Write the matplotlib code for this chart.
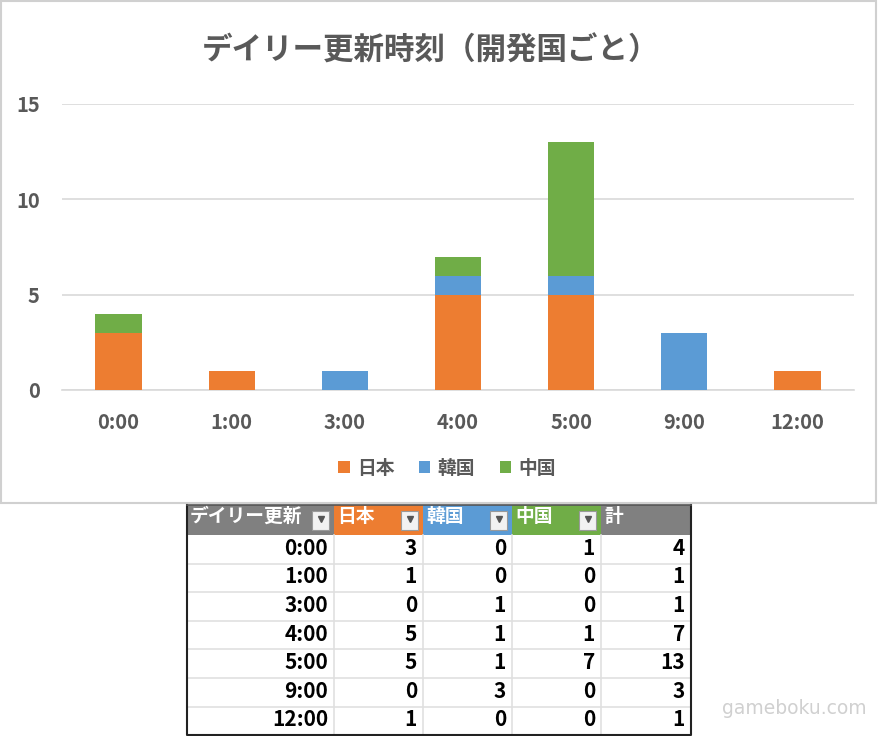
import numpy as np
import matplotlib
matplotlib.use('Agg')
from matplotlib import pyplot as plt
from matplotlib.patches import Rectangle

plt.rcParams['font.family'] = ['Noto Sans CJK JP', 'DejaVu Sans']

# data
times = ['0:00', '1:00', '3:00', '4:00', '5:00', '9:00', '12:00']
japan = [3, 1, 0, 5, 5, 0, 1]
korea = [0, 0, 1, 1, 1, 3, 0]
china = [1, 0, 0, 1, 7, 0, 0]
series_names = ['日本', '韓国', '中国']
table_header = ['デイリー更新', '日本', '韓国', '中国', '計']

ORANGE = '#ED7D31'
BLUE = '#5B9BD5'
GREEN = '#70AD47'
GRAY_TXT = '#595959'
W, H = 880, 736

fig = plt.figure(figsize=(W / 100, H / 100), dpi=100)

# overlay axes in pixel coords for frame, table, watermark
ov = fig.add_axes([0, 0, 1, 1])
ov.set_xlim(0, W)
ov.set_ylim(H, 0)
ov.axis('off')
ov.add_patch(Rectangle((1, 1), 875, 502, fill=False, ec='#d0d0d0', lw=1.5))

# chart axes
def fy(py):
  return 1 - py / H

ax = fig.add_axes([62 / W, fy(390), (854 - 62) / W, (390 - 104) / H])
x = np.arange(len(times))
jp = np.array(japan); kr = np.array(korea); cn = np.array(china)
bw = 0.41
ax.bar(x, jp, bw, color=ORANGE, label=series_names[0], zorder=3)
ax.bar(x, kr, bw, bottom=jp, color=BLUE, label=series_names[1], zorder=3)
ax.bar(x, cn, bw, bottom=jp + kr, color=GREEN, label=series_names[2], zorder=3)
ax.set_xlim(-0.5, len(times) - 0.5)
ax.set_ylim(0, 15)
ax.set_yticks([0, 5, 10, 15])
ax.yaxis.grid(True, color='#d9d9d9', lw=1.2, zorder=0)
for s in ['top', 'right', 'left']:
  ax.spines[s].set_visible(False)
ax.spines['bottom'].set_color('#d9d9d9')
ax.spines['bottom'].set_linewidth(1.2)
ax.set_xticks(x)
ax.set_xticklabels(times)
ax.tick_params(length=0, labelsize=14.5, labelcolor=GRAY_TXT, pad=0)
ax.tick_params(axis='x', pad=16)
ax.tick_params(axis='y', pad=16)
for lab in ax.get_xticklabels() + ax.get_yticklabels():
  lab.set_fontweight('bold')
ax.patch.set_alpha(0)

ov.text(431, 51, 'デイリー更新時刻（開発国ごと）', ha='center', va='center',
        fontsize=22, fontweight='bold', color=GRAY_TXT)

leg = ax.legend(loc='center', bbox_to_anchor=(447 / W, fy(468)), bbox_transform=fig.transFigure,
                ncol=3, frameon=False, handlelength=0.6, handleheight=0.6,
                handletextpad=0.4, columnspacing=1.3, prop={'size': 13.5, 'weight': 'bold'})
for t in leg.get_texts():
  t.set_color(GRAY_TXT)

# table
col_x = [187, 334, 423, 512, 601, 691]
head_top, head_bot = 505, 535
row_h = 28.6
head_colors = ['#808080', ORANGE, BLUE, GREEN, '#808080']
for i, name in enumerate(table_header):
  ov.add_patch(Rectangle((col_x[i], head_top), col_x[i + 1] - col_x[i], head_bot - head_top,
                         fc=head_colors[i], ec='none'))
  ov.text(col_x[i] + 3, head_top + 11, name, ha='left', va='center', fontsize=13.5,
          fontweight='bold', color='white')
  if i < 4:
    bx = col_x[i + 1] - 22
    ov.add_patch(Rectangle((bx, head_top + 6), 17, 19, fc='#f2f2f2', ec='#9a9a9a', lw=0.8))
    ov.plot([bx + 8.5], [head_top + 14], marker='v', ms=4, color='#555555')

totals = jp + kr + cn
rows = [[times[k], japan[k], korea[k], china[k], int(totals[k])] for k in range(len(times))]
for r, row in enumerate(rows):
  y0 = head_bot + r * row_h
  for c, val in enumerate(row):
    ov.text(col_x[c + 1] - 6, y0 + row_h / 2 - 1, str(val), ha='right', va='center',
            fontsize=15, fontweight='bold', color='black')
  if r > 0:
    ov.plot([col_x[0], col_x[-1]], [y0, y0], color='#e0e0e0', lw=1.2)
for cx in col_x[1:-1]:
  ov.plot([cx, cx], [head_bot, 735], color='#e0e0e0', lw=1.2)
ov.plot([col_x[0], col_x[0], col_x[-1], col_x[-1]], [head_top, 735, 735, head_top],
        color='#222222', lw=1.5)
ov.plot([col_x[0], col_x[-1]], [head_top, head_top], color='#555555', lw=1.2)

ov.text(794, 708, 'gameboku.com', ha='center', va='center', fontsize=13.5,
        color='#d0d0d0', family='DejaVu Sans')

fig.savefig('out.png', dpi=100)
